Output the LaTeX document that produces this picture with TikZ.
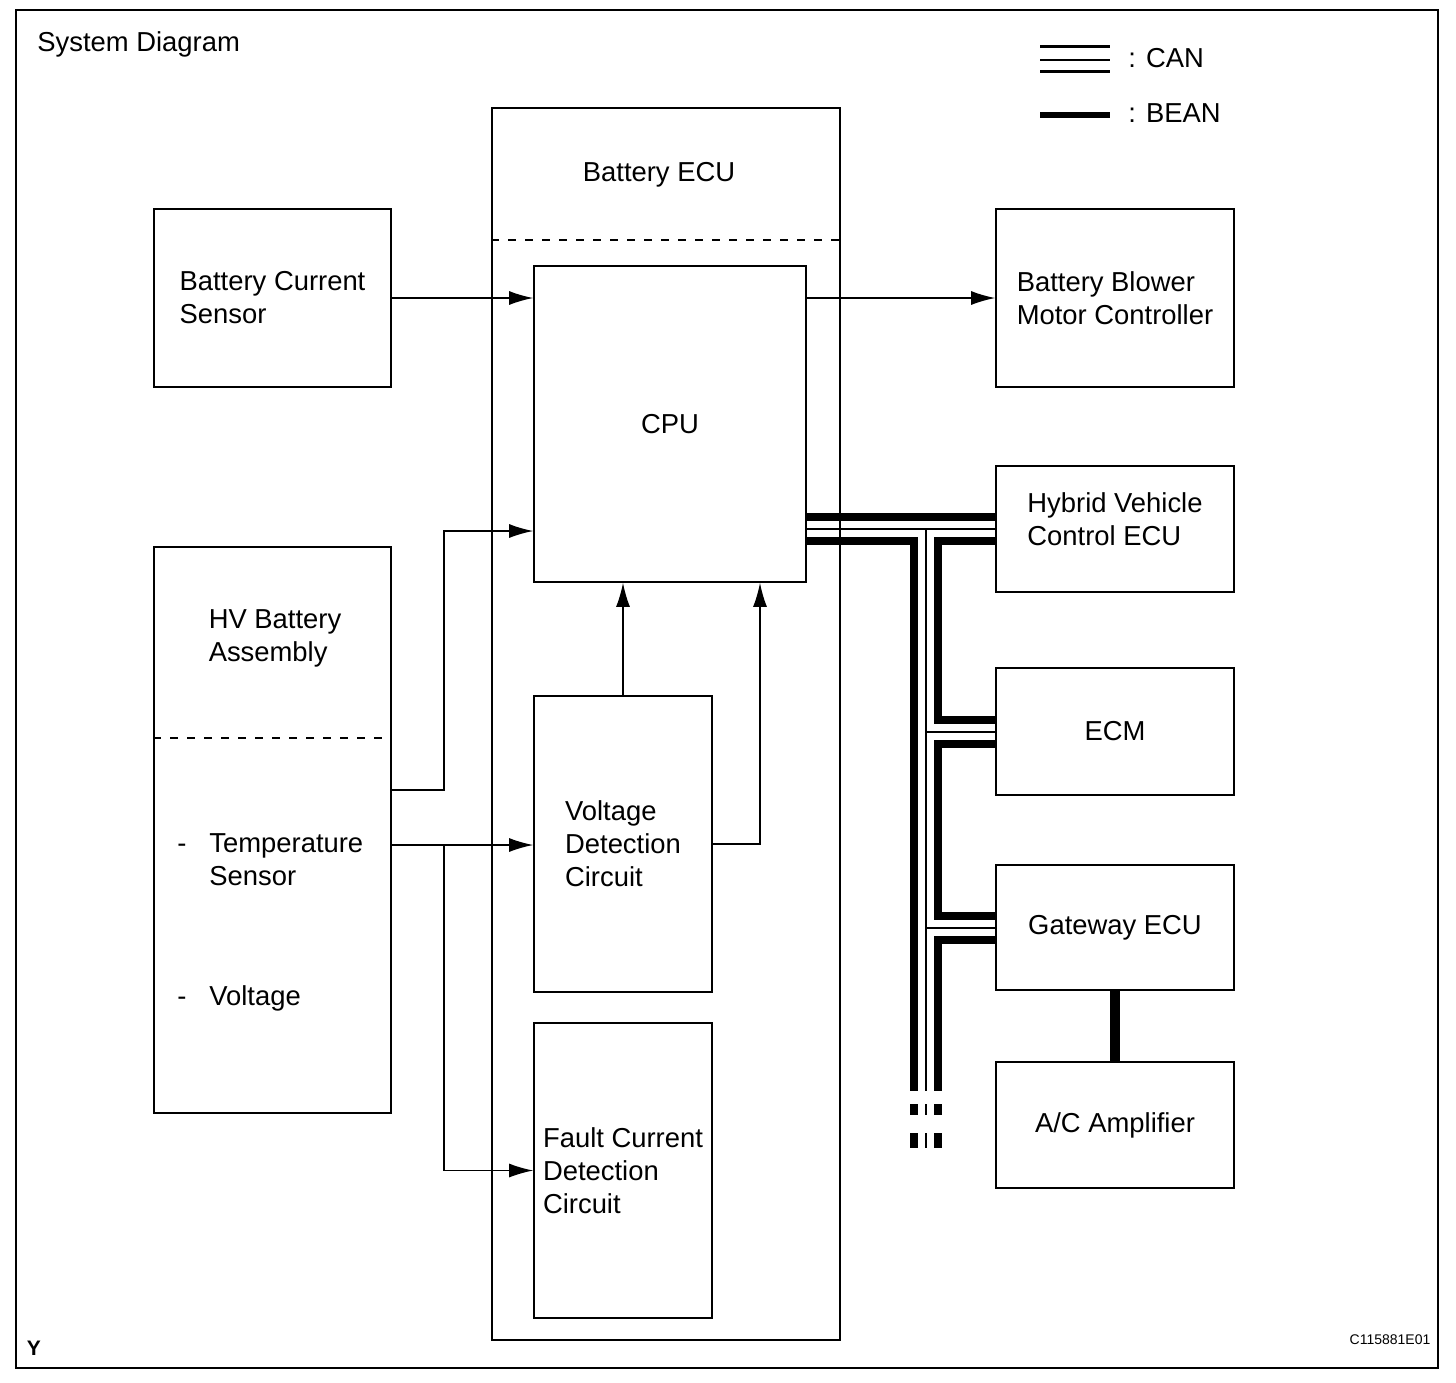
\documentclass[tikz,border=0pt]{standalone}
\usepackage{fontspec}
\setmainfont{Liberation Sans}
\usetikzlibrary{arrows.meta,backgrounds}

\tikzset{
    unitbox/.style 2 args={draw, line width=0.85pt, minimum width=#1, minimum height=#2, inner sep=0pt, align=left},
    sig/.style={line width=0.65pt, -{Latex[length=12pt,width=7pt]}},
    can/.style={line width=16pt, postaction={draw=white, line width=8pt}, postaction={draw=black, line width=1pt}},
    bean/.style={line width=5pt},
    divider/.style={line width=0.8pt, dash pattern=on 4pt off 4.5pt},
}

\begin{document}
\begin{tikzpicture}[x=0.5pt, y=-0.5pt, font=\fontsize{13.7pt}{16.5pt}\selectfont]
    \useasboundingbox (0,0) rectangle (1456,1382);
    \draw [line width=1pt] (16,10) rectangle (1438,1368);
    \node [anchor=west, inner sep=0pt] (title) at (37,44) {System Diagram};
    \node [font=\fontsize{10.5pt}{12pt}\selectfont\bfseries] (mark) at (34,1348) {Y};
    \node [font=\fontsize{7pt}{8pt}\selectfont] (code) at (1390,1340) {C115881E01};

    % legend
    \draw [line width=1.75pt] (1040,46.5) -- (1110,46.5);
    \draw [line width=0.9pt] (1040,60) -- (1110,60);
    \draw [line width=1.75pt] (1040,71.5) -- (1110,71.5);
    \draw [line width=3.3pt] (1040,115) -- (1110,115);
    \node [anchor=west, inner sep=0pt] (canleg) at (1128,58) {: CAN};
    \node [anchor=west, inner sep=0pt] (beanleg) at (1128,113) {: BEAN};

    % left side
    \node [unitbox={118.5pt}{89pt}] (bcs) at (272.5,298) {Battery Current\\Sensor};
    \node [unitbox={118.5pt}{283pt}] (hv) at (272.5,830) {};
    \node [align=left] (hvtitle) at (275,638) {HV Battery\\Assembly};
    \draw [divider] (hv.west |- 0,738) -- (hv.east |- 0,738);
    \node [anchor=base west, inner sep=0pt] at (177,852) {-};
    \node [anchor=base west, inner sep=0pt] (temp) at (209,852) {Temperature};
    \node [anchor=base west, inner sep=0pt] (sensor) at (209,885) {Sensor};
    \node [anchor=base west, inner sep=0pt] at (177,1005) {-};
    \node [anchor=base west, inner sep=0pt] (volt) at (209,1005) {Voltage};

    % battery ECU
    \node [unitbox={174pt}{616pt}] (ecu) at (666,724) {};
    \node (ecutitle) at (659,175) {Battery ECU};
    \draw [divider] (ecu.west |- 0,240) -- (ecu.east |- 0,240);
    \node [unitbox={136pt}{158pt}] (cpu) at (670,424) {CPU};
    \node [unitbox={89pt}{148pt}] (vdc) at (623,844) {Voltage\\Detection\\Circuit};
    \node [unitbox={89pt}{147.5pt}] (fcd) at (623,1170.5) {Fault Current\\Detection\\Circuit};

    % right side
    \node [unitbox={119pt}{89pt}] (blower) at (1115,298) {Battery Blower\\Motor Controller};
    \node [unitbox={119pt}{63pt}, label={[align=left, yshift=5pt]center:Hybrid Vehicle\\Control ECU}] (hvecu) at (1115,529) {};
    \node [unitbox={119pt}{63.5pt}] (ecm) at (1115,731.5) {ECM};
    \node [unitbox={119pt}{62.5pt}] (gw) at (1115,927.5) {Gateway ECU};
    \node [unitbox={119pt}{63pt}] (ac) at (1115,1125) {A/C Amplifier};

    % signal lines
    \draw [sig] (bcs.east) -- (bcs.east -| cpu.west);
    \draw [sig] (cpu.east |- blower.west) -- (blower.west);
    \draw [sig] (hv.east |- 0,790) -- (444,790) |- (cpu.west |- 0,531);
    \coordinate (split) at (444,845);
    \draw [sig] (hv.east |- split) -- (split -| vdc.west);
    \draw [sig] (split) |- (fcd.west);
    \draw [sig] (vdc.north) -- (vdc.north |- cpu.south);
    \draw [sig] (vdc.east) -| (cpu.south -| 760,0);

    % bus lines
    \coordinate (bus) at (926,529);
    \begin{scope}[on background layer]
        \draw [can] (cpu.east |- hvecu.west) -- (hvecu.west)
            (bus) -- (bus |- 0,1091)
            (bus |- ecm.west) -- (ecm.west)
            (bus |- gw.west) -- (gw.west)
            (bus |- 0,1104) -- (bus |- 0,1115)
            (bus |- 0,1133) -- (bus |- 0,1148);
        \draw [bean] (gw.south) -- (ac.north);
    \end{scope}
\end{tikzpicture}
\end{document}
